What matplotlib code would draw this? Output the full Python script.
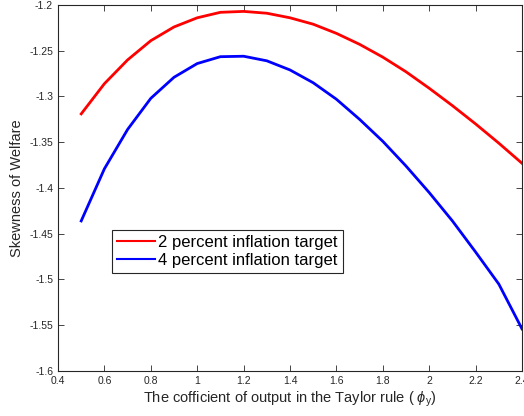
import matplotlib
matplotlib.use("Agg")
from matplotlib import pyplot
import numpy

phi_y = [0.5, 0.6, 0.7, 0.8, 0.9, 1.0, 1.1, 1.2, 1.3, 1.4,
         1.5, 1.6, 1.7, 1.8, 1.9, 2.0, 2.1, 2.2, 2.3, 2.4]
skew_2pct = [-1.319, -1.286, -1.260, -1.239, -1.224, -1.214, -1.208, -1.207, -1.209, -1.214,
             -1.221, -1.231, -1.243, -1.257, -1.273, -1.291, -1.310, -1.330, -1.351, -1.373]
skew_4pct = [-1.436, -1.379, -1.336, -1.302, -1.279, -1.264, -1.2565, -1.256, -1.261, -1.271,
             -1.285, -1.303, -1.325, -1.349, -1.376, -1.405, -1.436, -1.470, -1.505, -1.554]

pyplot.rcParams['font.family'] = ['Liberation Sans', 'DejaVu Sans']
pyplot.rcParams['mathtext.fontset'] = 'custom'
pyplot.rcParams['mathtext.it'] = 'Liberation Sans:italic'
pyplot.rcParams['mathtext.rm'] = 'Liberation Sans'

gray = '#262626'
fig = pyplot.figure(figsize=(5.24, 4.16), dpi=100)
ax = fig.add_axes([0.1107, 0.1082, 0.8855, 0.8798])
ax.plot(phi_y, skew_2pct, color='#ff0000', linewidth=2, label='2 percent inflation target')
ax.plot(phi_y, skew_4pct, color='#0000ff', linewidth=2, label='4 percent inflation target')
ax.set_xlim(0.4, 2.4)
ax.set_ylim(-1.6, -1.2)
ax.set_xticks(numpy.arange(0.4, 2.41, 0.2))
ax.set_xticklabels(['0.4', '0.6', '0.8', '1', '1.2', '1.4', '1.6', '1.8', '2', '2.2', '2.4'])
ax.set_yticks(numpy.arange(-1.6, -1.19, 0.05))
ax.set_yticklabels(['-1.6', '-1.55', '-1.5', '-1.45', '-1.4', '-1.35', '-1.3', '-1.25', '-1.2'])
ax.tick_params(direction='in', top=True, right=True, labelsize=7.5, colors=gray, length=4, width=0.6)
for s in ax.spines.values():
    s.set_color(gray)
    s.set_linewidth(0.8)
ax.set_xlabel(r'The cofficient of output in the Taylor rule ( $\phi_{\mathrm{y}}$)', fontsize=10.5, color=gray, labelpad=3)
ax.set_ylabel('Skewness of Welfare', fontsize=10.5, color=gray)
leg = ax.legend(loc='upper left', bbox_to_anchor=(0.116, 0.385), fontsize=12, fancybox=False,
                framealpha=1, edgecolor=gray, borderpad=0.3, labelspacing=0.15,
                handlelength=2.3, handletextpad=0.2, borderaxespad=0)
leg.get_frame().set_linewidth(0.8)
for line in leg.get_lines():
    line.set_linewidth(1.5)
pyplot.savefig('out.png')
